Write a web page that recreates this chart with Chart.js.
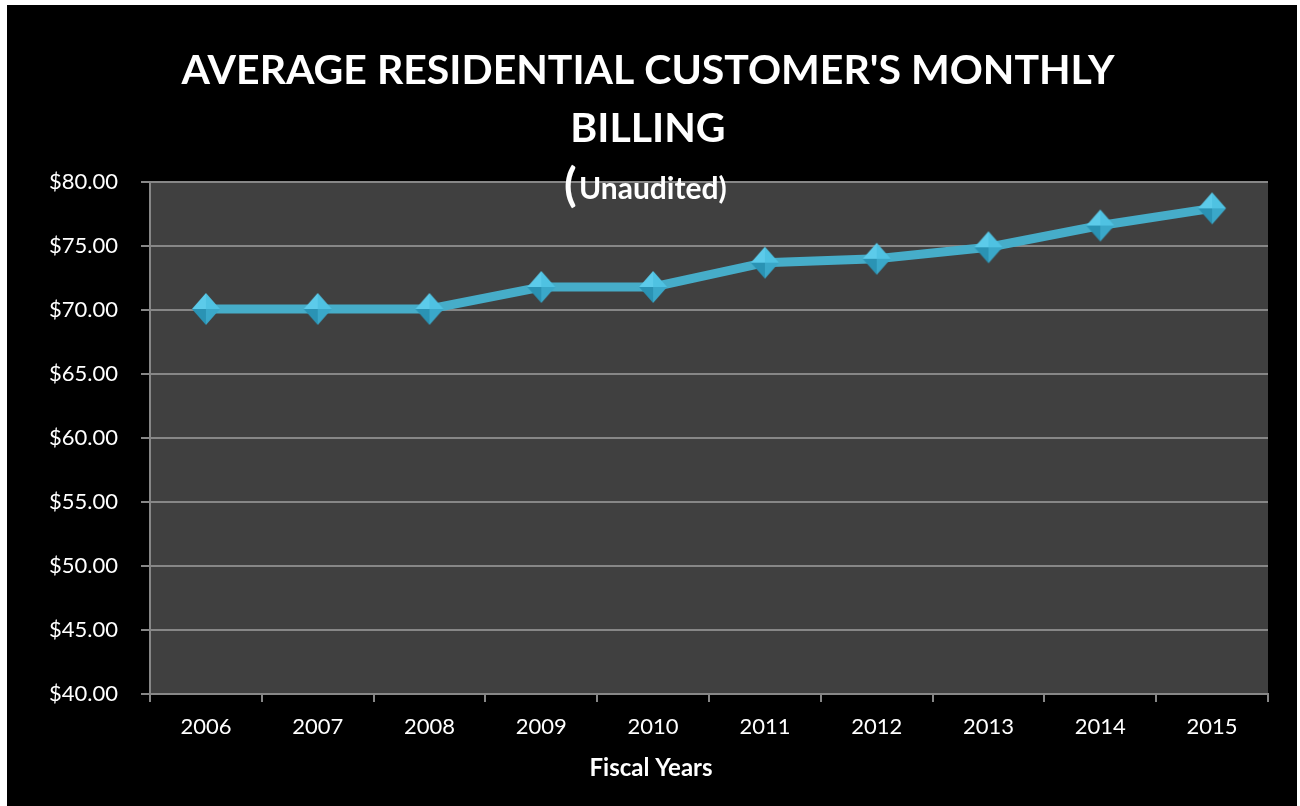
<!DOCTYPE html>
<html>
<head>
<meta charset="utf-8">
<title>Average Residential Customer's Monthly Billing</title>
<script src="https://cdn.jsdelivr.net/npm/chart.js@4.4.1/dist/chart.umd.min.js"></script>
<style>
    html, body { margin: 0; padding: 0; background: #ffffff; }
    #wrap { position: absolute; left: 0; top: 0; width: 1300px; height: 806px; }
</style>
</head>
<body>
<div id="wrap"><canvas id="billing-chart" width="1300" height="806"></canvas></div>
<script>
// Fiscal years and average monthly bill (dollars)
const fiscalYears = ['2006', '2007', '2008', '2009', '2010', '2011', '2012', '2013', '2014', '2015'];
const avgMonthlyBill = [70.08, 70.08, 70.08, 71.80, 71.80, 73.70, 74.00, 74.90, 76.60, 77.94];

// Y axis range
const yMin = 40;
const yMax = 80;
const yStep = 5;

const titleLines = ["AVERAGE RESIDENTIAL CUSTOMER'S MONTHLY", 'BILLING'];
const subTitle = 'Unaudited)';
const xAxisTitle = 'Fiscal Years';

const FONT = 'Lato, "Open Sans", sans-serif';
const GRID = '#878787';

/**
 * Build a shaded diamond used as the point marker
 */
const makeDiamond = () => {
    const c = document.createElement('canvas');
    c.width = 30;
    c.height = 34;
    const g = c.getContext('2d');
    const top = [15, 1], right = [29, 17], bottom = [15, 33], left = [1, 17], mid = [15, 17];
    const facet = (a, b, color) => {
        g.beginPath();
        g.moveTo(a[0], a[1]);
        g.lineTo(b[0], b[1]);
        g.lineTo(mid[0], mid[1]);
        g.closePath();
        g.fillStyle = color;
        g.fill();
    };
    facet(top, left, '#5ccbea');
    facet(top, right, '#4fc2e2');
    facet(left, bottom, '#2a93b4');
    facet(right, bottom, '#3aa8c9');
    return c;
};

// Backgrounds: white page edge, black chart panel, grey plot area
const backgroundPlugin = {
    id: 'panelBackground',
    beforeDraw(chart) {
        const { ctx, chartArea } = chart;
        ctx.save();
        ctx.fillStyle = '#ffffff';
        ctx.fillRect(0, 0, chart.width, chart.height);
        ctx.fillStyle = '#000000';
        ctx.fillRect(7, 5, 1290, 801);
        ctx.fillStyle = '#404040';
        ctx.fillRect(chartArea.left, chartArea.top, chartArea.right - chartArea.left, chartArea.bottom - chartArea.top);
        ctx.restore();
    }
};

// Title block and axis title, centred on the panel rather than the plot
const titlePlugin = {
    id: 'billingTitle',
    afterDraw(chart) {
        const { ctx } = chart;
        const cx = 648;
        ctx.save();
        ctx.fillStyle = '#ffffff';
        ctx.textAlign = 'center';
        ctx.textBaseline = 'alphabetic';
        ctx.font = 'bold 41px ' + FONT;
        ctx.fillText(titleLines[0], cx, 84);
        ctx.fillText(titleLines[1], cx, 142);

        ctx.textBaseline = 'middle';
        ctx.font = 'bold 24px ' + FONT;
        ctx.fillText(xAxisTitle, 651, 768);

        ctx.textAlign = 'left';
        ctx.textBaseline = 'alphabetic';
        ctx.font = 'bold 46px ' + FONT;
        ctx.fillText('(', 564, 201);
        ctx.font = 'bold 30px ' + FONT;
        ctx.fillText(subTitle, 579, 199);
        ctx.restore();
    }
};

const ctx = document.getElementById('billing-chart').getContext('2d');

const billingChart = new Chart(ctx, {
    type: 'line',
    data: {
        labels: fiscalYears,
        datasets: [{
            label: 'Average monthly bill',
            data: avgMonthlyBill,
            borderColor: '#46adc9',
            borderWidth: 9,
            tension: 0,
            fill: false,
            pointStyle: makeDiamond(),
            pointRadius: 14,
            pointHoverRadius: 14
        }]
    },
    options: {
        responsive: false,
        animation: false,
        devicePixelRatio: 1,
        layout: {
            padding: { top: 182, right: 32, left: 0, bottom: 0 }
        },
        plugins: {
            legend: { display: false },
            tooltip: { enabled: false },
            title: { display: false }
        },
        scales: {
            x: {
                offset: true,
                grid: {
                    offset: true,
                    drawOnChartArea: false,
                    drawTicks: true,
                    tickLength: 8,
                    color: GRID,
                    lineWidth: 2
                },
                border: { display: true, color: GRID, width: 2 },
                ticks: {
                    color: '#ffffff',
                    font: { family: FONT, size: 22 },
                    padding: 12,
                    maxRotation: 0,
                    autoSkip: false
                },
                afterFit: scale => { scale.height = 112; }
            },
            y: {
                min: yMin,
                max: yMax,
                grid: {
                    color: GRID,
                    lineWidth: 2,
                    tickLength: 9
                },
                border: { display: true, color: GRID, width: 2 },
                ticks: {
                    stepSize: yStep,
                    color: '#ffffff',
                    font: { family: FONT, size: 22 },
                    padding: 23,
                    callback: v => '$' + v.toFixed(2)
                },
                afterFit: scale => { scale.width = 150; }
            }
        }
    },
    plugins: [backgroundPlugin, titlePlugin]
});
</script>
</body>
</html>
